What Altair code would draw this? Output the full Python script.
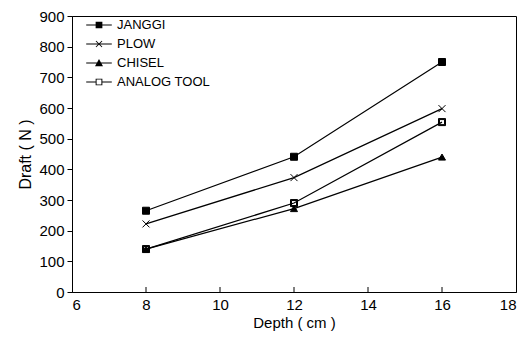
import altair as alt
import pandas as pd

series_names = ["JANGGI", "PLOW", "CHISEL", "ANALOG TOOL"]
depth = [8, 12, 16]
janggi = [265, 441, 750]
plow = [222, 373, 598]
chisel = [140, 272, 440]
analog = [140, 290, 554]
x_ticks = [6, 8, 10, 12, 14, 16, 18]
y_ticks = [0, 100, 200, 300, 400, 500, 600, 700, 800, 900]

rows = []
for name, vals in zip(series_names, [janggi, plow, chisel, analog]):
    for d, v in zip(depth, vals):
        rows.append({"series": name, "depth": d, "draft": v})
df = pd.DataFrame(rows)
tick_df = pd.DataFrame({"depth": x_ticks[1:-1]})

FONT = "Liberation Sans"
W, H = 444, 276

# marker shapes on the plot
point_paths = [
    "square",
    "M-1,-1L1,1M-1,1L1,-1",
    "triangle-up",
    "M-1,-1H1V1H-1Z M-0.72,-0.72V0.72H0.72V-0.72Z",
]
# legend symbols: short line segment with marker (all filled areas)
LINE_POS = "M-1.6,-0.06H1.6V0.06H-1.6Z"
LINE_NEG = "M-1.6,-0.06V0.06H1.6V-0.06Z"
legend_paths = [
    LINE_POS + " M-0.42,-0.42H0.42V0.42H-0.42Z",
    LINE_NEG + " M-0.42,-0.34L0.34,0.42L0.42,0.34L-0.34,-0.42Z M-0.42,0.34L-0.34,0.42L0.42,-0.34L0.34,-0.42Z",
    LINE_POS + " M0,-0.5L0.5,0.4H-0.5Z",
    "M-1.6,-0.06H-0.42V0.06H-1.6Z M0.42,-0.06H1.6V0.06H0.42Z M-0.42,-0.42H0.42V0.42H-0.42Z M-0.3,-0.3V0.3H0.3V-0.3Z",
]

x_axis = alt.Axis(values=x_ticks, tickSize=0, labelPadding=5, title="Depth ( cm )",
                  titlePadding=3, titleFontSize=15, grid=False, labelOverlap=False)
y_axis = alt.Axis(values=y_ticks, tickSize=5, labelPadding=3, title="Draft ( N )",
                  titlePadding=5, grid=False, labelOverlap=False)
x_scale = alt.Scale(domain=[6, 18], nice=False)
y_scale = alt.Scale(domain=[0, 900], nice=False)
x_enc = alt.X("depth:Q", scale=x_scale, axis=x_axis)
y_enc = alt.Y("draft:Q", scale=y_scale, axis=y_axis)

lines = alt.Chart(df).mark_line(color="black", strokeWidth=1.2).encode(
    x=x_enc, y=y_enc, detail="series:N")

points = alt.Chart(df).mark_point(filled=True, color="black", stroke="black",
                                  strokeWidth=1, size=49, opacity=1).encode(
    x=x_enc, y=y_enc,
    shape=alt.Shape("series:N", scale=alt.Scale(domain=series_names, range=point_paths), legend=None))

legend_layer = alt.Chart(df).transform_filter("false").mark_point(
    filled=False, fill="black", stroke="black", strokeWidth=0, opacity=1).encode(
    x=x_enc, y=y_enc,
    shape=alt.Shape("series:N", scale=alt.Scale(domain=series_names, range=legend_paths),
                    legend=alt.Legend(title=None, orient="none", legendX=19, legendY=1, padding=0,
                                      symbolSize=256, symbolStrokeWidth=0, symbolFillColor="black",
                                      symbolOpacity=1,
                                      labelOffset=10, rowPadding=4, labelFontSize=13,
                                      labelFont=FONT, labelColor="black")))

ticks = alt.Chart(tick_df).mark_rule(color="black", strokeWidth=1).encode(
    x=x_enc, y=alt.value(H), y2=alt.value(H - 5))

chart = alt.layer(lines, points, legend_layer, ticks).resolve_scale(shape="independent").properties(
    width=W, height=H,
    autosize=alt.AutoSizeParams(type="none"),
    padding={"left": 64, "top": 8, "right": 2, "bottom": 41},
).configure_view(stroke="black", strokeWidth=1).configure_axis(
    domainColor="black", tickColor="black", labelColor="black", titleColor="black",
    labelFont=FONT, titleFont=FONT, labelFontSize=15, titleFontSize=16, titleFontWeight="normal",
    domainWidth=1, tickWidth=1,
)

chart.save("out.html", embed_options={"renderer": "svg", "actions": False})
